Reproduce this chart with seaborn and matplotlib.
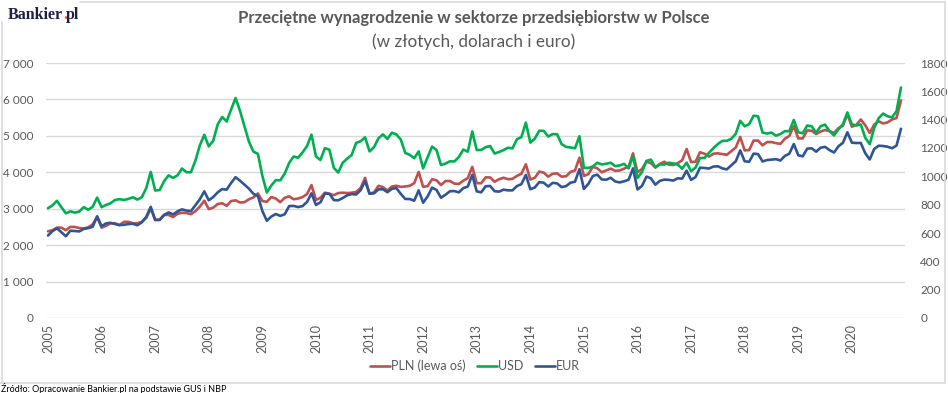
import matplotlib
matplotlib.use("Agg")
import matplotlib.pyplot as plt
from matplotlib.lines import Line2D
from matplotlib.ticker import FuncFormatter
import numpy as np
import pandas as pd
import seaborn as sns

years = list(range(2005, 2021))

pln = [
    2380, 2410, 2480, 2480, 2410, 2500, 2500, 2470, 2460, 2490, 2570, 2770,
    2480, 2530, 2600, 2600, 2550, 2640, 2640, 2600, 2600, 2640, 2750, 3000,
    2690, 2700, 2830, 2830, 2770, 2860, 2890, 2880, 2850, 2930, 3060, 3220,
    2990, 3030, 3130, 3150, 3080, 3210, 3230, 3170, 3180, 3260, 3310, 3420,
    3210, 3190, 3320, 3280, 3180, 3300, 3340, 3260, 3280, 3320, 3400, 3650,
    3240, 3300, 3440, 3410, 3370, 3430, 3440, 3430, 3440, 3460, 3570, 3850,
    3410, 3450, 3630, 3590, 3500, 3610, 3630, 3600, 3610, 3630, 3700, 4010,
    3600, 3620, 3810, 3780, 3650, 3760, 3760, 3690, 3680, 3770, 3840, 4150,
    3700, 3700, 3860, 3860, 3740, 3810, 3850, 3810, 3820, 3900, 3960, 4220,
    3800, 3850, 4020, 3990, 3880, 3960, 3970, 3880, 3890, 4010, 4050, 4400,
    3900, 3950, 4150, 4110, 4000, 4050, 4100, 4040, 4050, 4100, 4150, 4520,
    4000, 4090, 4290, 4250, 4130, 4230, 4290, 4210, 4200, 4250, 4330, 4640,
    4280, 4290, 4550, 4510, 4430, 4510, 4520, 4500, 4480, 4580, 4680, 4970,
    4600, 4610, 4870, 4870, 4740, 4830, 4830, 4800, 4780, 4920, 5000, 5270,
    4930, 4930, 5150, 5140, 5050, 5120, 5160, 5130, 5080, 5210, 5280, 5600,
    5250, 5300, 5450, 5290, 5080, 5310, 5400, 5340, 5370, 5450, 5490, 5970,
]

usd = [
    775, 795, 827, 782, 739, 753, 744, 751, 783, 764, 785, 850,
    782, 798, 810, 833, 839, 833, 841, 852, 836, 852, 917, 1031,
    900, 903, 966, 1007, 989, 1007, 1055, 1029, 1029, 1110, 1219, 1293,
    1211, 1252, 1367, 1419, 1387, 1472, 1553, 1461, 1353, 1244, 1174, 1159,
    1003, 886, 935, 973, 972, 1019, 1095, 1140, 1131, 1169, 1214, 1294,
    1141, 1115, 1199, 1188, 1060, 1027, 1096, 1125, 1151, 1236, 1248, 1275,
    1176, 1206, 1269, 1296, 1264, 1308, 1296, 1259, 1165, 1152, 1128, 1176,
    1056, 1135, 1210, 1185, 1080, 1090, 1106, 1105, 1136, 1189, 1174, 1317,
    1186, 1186, 1206, 1214, 1161, 1172, 1185, 1202, 1197, 1262, 1277, 1379,
    1238, 1266, 1322, 1321, 1281, 1298, 1297, 1228, 1208, 1204, 1198, 1283,
    1060, 1059, 1070, 1096, 1084, 1089, 1096, 1072, 1077, 1088, 1056, 1144,
    988, 1030, 1109, 1118, 1064, 1085, 1083, 1096, 1091, 1084, 1054, 1097,
    1036, 1062, 1129, 1130, 1166, 1199, 1228, 1250, 1251, 1265, 1300, 1392,
    1353, 1368, 1428, 1424, 1309, 1302, 1309, 1287, 1299, 1319, 1319, 1398,
    1311, 1304, 1359, 1353, 1308, 1354, 1365, 1319, 1289, 1332, 1368, 1451,
    1367, 1359, 1366, 1272, 1227, 1341, 1410, 1443, 1424, 1416, 1460, 1627,
]

eur = [
    582, 613, 633, 605, 577, 616, 614, 611, 629, 634, 644, 718,
    648, 668, 672, 663, 656, 658, 663, 665, 655, 675, 714, 785,
    693, 692, 728, 745, 731, 753, 767, 758, 754, 796, 838, 894,
    831, 854, 887, 910, 906, 953, 994, 969, 941, 913, 876, 861,
    755, 686, 716, 734, 721, 732, 790, 791, 783, 790, 819, 880,
    798, 817, 878, 877, 832, 831, 847, 866, 875, 872, 902, 967,
    877, 880, 908, 909, 888, 912, 917, 876, 840, 840, 828, 901,
    814, 858, 920, 904, 849, 870, 895, 896, 887, 917, 928, 1010,
    894, 887, 930, 932, 895, 892, 906, 901, 901, 931, 945, 1010,
    909, 921, 959, 955, 928, 954, 950, 924, 931, 955, 962, 1050,
    911, 947, 1002, 1012, 978, 976, 990, 964, 957, 965, 976, 1056,
    907, 932, 998, 986, 941, 968, 977, 975, 970, 986, 984, 1040,
    975, 995, 1061, 1059, 1055, 1069, 1071, 1056, 1049, 1078, 1106, 1183,
    1106, 1103, 1160, 1157, 1105, 1115, 1118, 1121, 1112, 1144, 1160, 1228,
    1149, 1141, 1195, 1198, 1174, 1202, 1208, 1185, 1168, 1212, 1237, 1311,
    1238, 1235, 1236, 1163, 1119, 1193, 1216, 1214, 1209, 1198, 1217, 1336,
]

series_labels = ["PLN (lewa oś)", "USD", "EUR"]
title = "Przeciętne wynagrodzenie w sektorze przedsiębiorstw w Polsce"
subtitle = "(w złotych, dolarach i euro)"
source = "Źródło: Opracowanie Bankier.pl na podstawie GUS i NBP"

RED = "#C0504D"
GREEN = "#00B050"
BLUE = "#2F5597"
GRAY = "#595959"
GRID = "#D9D9D9"

sns.set_theme(style="white")
plt.rcParams["font.family"] = ["Lato", "DejaVu Sans"]

W, H = 948, 393
df = pd.DataFrame({"m": np.arange(len(pln)), "PLN": pln, "USD": usd, "EUR": eur})

fig = plt.figure(figsize=(W / 100, H / 100), dpi=100)
fig.patch.set_facecolor("white")

x0, x1, ytop, ybot = 46, 905, 63, 318
ax = fig.add_axes([x0 / W, 1 - ybot / H, (x1 - x0) / W, (ybot - ytop) / H])
ax2 = ax.twinx()

lw = 1.9
sns.lineplot(data=df, x="m", y="PLN", ax=ax, color=RED, lw=lw, legend=False)
sns.lineplot(data=df, x="m", y="USD", ax=ax2, color=GREEN, lw=lw, legend=False)
sns.lineplot(data=df, x="m", y="EUR", ax=ax2, color=BLUE, lw=lw, legend=False)

ax.set_xlim(-0.45, 191.9)
ax.set_ylim(0, 7000)
ax2.set_ylim(0, 1800)
ax.set_yticks(np.arange(0, 7001, 1000))
ax2.set_yticks(np.arange(0, 1801, 200))
ax.yaxis.set_major_formatter(FuncFormatter(lambda v, p: f"{int(v):,}".replace(",", " ")))
ax2.yaxis.set_major_formatter(FuncFormatter(lambda v, p: f"{int(v)}"))
ax.set_xticks([12 * i for i in range(len(years))])
ax.set_xticklabels([str(y) for y in years], rotation=90)

ax.yaxis.grid(True, color=GRID, lw=1)
ax.xaxis.grid(False)
ax2.grid(False)
for a in (ax, ax2):
    for s in a.spines.values():
        s.set_visible(False)
    a.set_xlabel("")
    a.set_ylabel("")
    a.tick_params(length=0, labelcolor=GRAY, labelsize=8.5)
ax.tick_params(axis="x", labelsize=9, pad=4)
ax.tick_params(axis="y", pad=9)
ax2.tick_params(axis="y", pad=11)
ax.set_facecolor("none")
ax2.set_facecolor("none")

handles = [Line2D([], [], color=c, lw=lw) for c in (RED, GREEN, BLUE)]
leg = fig.legend(handles, series_labels, loc="center", bbox_to_anchor=(0.501, 1 - 366 / H),
                 ncol=3, frameon=False, fontsize=9, handlelength=1.6, handletextpad=0.1,
                 columnspacing=0.9)
for t in leg.get_texts():
    t.set_color(GRAY)

fig.text(0.5, 1 - 18 / H, title, ha="center", va="center", fontsize=12,
         fontweight="bold", color=GRAY)
fig.text(0.5, 1 - 42 / H, subtitle, ha="center", va="center", fontsize=12.3, color=GRAY)
fig.text(1 / W, 1 - 388 / H, source, ha="left", va="center", fontsize=6.5, color="black")

# border
for xs, ys in [((80 / W, 945 / W), (1 - 1.5 / H, 1 - 1.5 / H)),
               ((1.5 / W, 1.5 / W), (1 - 22 / H, 1 - 383 / H)),
               ((0, 945 / W), (1 - 383 / H, 1 - 383 / H)),
               ((945 / W, 945 / W), (1 - 1.5 / H, 1 - 383 / H))]:
    fig.add_artist(Line2D(xs, ys, color="#D9D9D9", lw=1.2, transform=fig.transFigure))

# logo: three pieces placed side by side on a common baseline
logo_kw = dict(ha="left", va="baseline", fontsize=11.5, fontweight="bold",
               family=["Liberation Serif"])
fig.canvas.draw()
r = fig.canvas.get_renderer()
probe1 = fig.text(0, 0, "Bankier", **logo_kw)
probe2 = fig.text(0, 0, "Bankier.", **logo_kw)
w1 = probe1.get_window_extent(r).width
w2 = probe2.get_window_extent(r).width
probe1.remove()
probe2.remove()
lx, ly = 8, 1 - 19 / H
fig.text(lx / W, ly, "Bankier", color="#1B2147", **logo_kw)
fig.text((lx + w1) / W, ly, ".", color="#F0501E", **logo_kw)
fig.text((lx + w2) / W, ly, "pl", color="#1B2147", **logo_kw)

fig.savefig("out.png", dpi=100, facecolor="white")
